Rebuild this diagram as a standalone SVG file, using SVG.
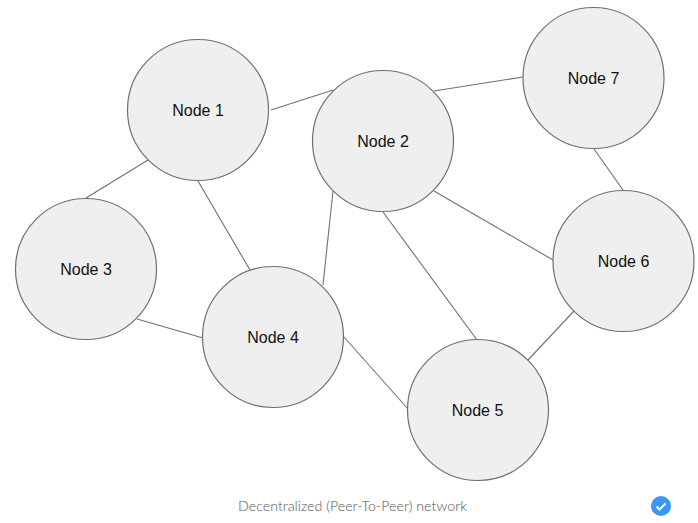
<svg xmlns="http://www.w3.org/2000/svg" width="698" height="523" viewBox="0 0 698 523">
<style>
.n{fill:#efefef;stroke:#707070;stroke-width:1.2}
.l{font:16px "Liberation Sans",Arial,sans-serif;fill:#111;text-anchor:middle}
#connectors line{stroke:#707070;stroke-width:1.1}
</style>
<rect width="698" height="523" fill="#fff"/>
<g id="connectors">
<line x1="271" y1="110" x2="333" y2="90"/>
<line x1="434" y1="91" x2="523" y2="77"/>
<line x1="148" y1="160" x2="86" y2="198"/>
<line x1="198" y1="181" x2="250" y2="270"/>
<line x1="333" y1="191" x2="323" y2="285"/>
<line x1="383" y1="212" x2="477" y2="340"/>
<line x1="434" y1="191" x2="553" y2="260"/>
<line x1="594" y1="149" x2="623" y2="190"/>
<line x1="574" y1="311" x2="528" y2="360"/>
<line x1="344" y1="337" x2="408" y2="409"/>
<line x1="137" y1="319" x2="203" y2="338"/>
</g>
<g id="node1"><circle class="n" cx="198" cy="110" r="70.500"/><text class="l" x="198" y="115.500">Node 1</text></g>
<g id="node2"><circle class="n" cx="383" cy="141" r="70.500"/><text class="l" x="383" y="146.500">Node 2</text></g>
<g id="node3"><circle class="n" cx="86" cy="269" r="70.500"/><text class="l" x="86" y="274.500">Node 3</text></g>
<g id="node4"><circle class="n" cx="273" cy="337" r="70.500"/><text class="l" x="273" y="342.500">Node 4</text></g>
<g id="node5"><circle class="n" cx="478" cy="410" r="70.500"/><text class="l" x="477.500" y="415.500">Node 5</text></g>
<g id="node6"><circle class="n" cx="623.500" cy="261" r="70.500"/><text class="l" x="623.500" y="266.500">Node 6</text></g>
<g id="node7"><circle class="n" cx="593.500" cy="78" r="70.500"/><text class="l" x="593.500" y="83.500">Node 7</text></g>
<text x="238" y="511" font-family="Lato,'Open Sans',sans-serif" font-size="14" font-weight="300" fill="#555" textLength="229" lengthAdjust="spacingAndGlyphs">Decentralized (Peer-To-Peer) network</text>
<g id="badge"><circle cx="661" cy="506" r="10" fill="#3b97ef"/><path d="M656.500 506.500l3 3 6-6" fill="none" stroke="#fff" stroke-width="2"/></g>
</svg>
